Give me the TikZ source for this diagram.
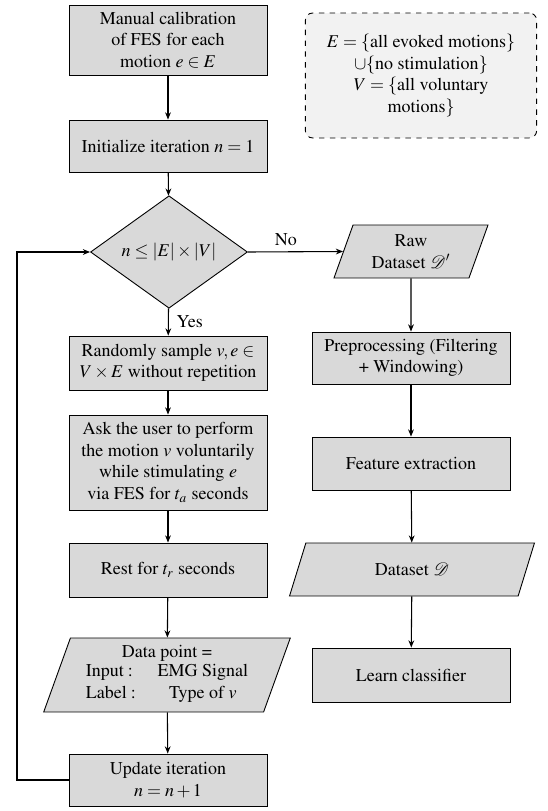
\documentclass[tikz,border=0pt]{standalone}
\usepackage[T1]{fontenc}
\usepackage{amsmath}
\usepackage{mathptmx}
\usepackage{mathrsfs}
\usetikzlibrary{shapes.geometric,arrows.meta}
\definecolor{boxfill}{HTML}{D9D9D9}
\definecolor{legfill}{HTML}{F2F2F2}
\tikzset{
  every node/.style={font=\rmfamily\fontsize{10}{12}\selectfont},
  proc/.style={draw, fill=boxfill, line width=0.5pt, align=center, minimum width=110pt, inner sep=2pt},
  io/.style={draw, fill=boxfill, line width=0.5pt, align=center, trapezium, trapezium left angle=70, trapezium right angle=110, trapezium stretches=true, inner sep=1pt},
  dec/.style={draw, fill=boxfill, line width=0.5pt, diamond, minimum width=87.2pt, minimum height=43.3pt, inner sep=0pt},
  legend/.style={draw, fill=legfill, dashed, rounded corners=4pt, line width=0.5pt, align=center, minimum width=128.5pt, minimum height=69.4pt},
  flow/.style={-{Stealth[length=4pt,width=3.2pt]}, line width=0.6pt},
  lbl/.style={font=\rmfamily\fontsize{10}{12}\selectfont}
}
\begin{document}
\begin{tikzpicture}[x=0.5556pt, y=-0.5556pt]
\useasboundingbox (0,0) rectangle (548,811);
% left column
\node[proc, minimum height=38.9pt] (calib) at (168,40) {Manual calibration\\of FES for each\\motion $e\in E$};
\node[proc, minimum height=28.9pt] (init) at (168,146) {Initialize iteration $n=1$};
\node[dec] (cond) at (169,252) {$n\le|E|\times|V|$};
\node[proc, minimum height=30pt] (sample) at (168,363) {Randomly sample $v,e\in$\\$V\times E$ without repetition};
\node[proc, minimum height=52.8pt] (ask) at (168,462.5) {Ask the user to perform\\the motion $v$ voluntarily\\while stimulating $e$\\via FES for $t_a$ seconds};
\node[proc, minimum height=30pt] (rest) at (168,570) {Rest for $t_r$ seconds};
\node[io, minimum width=137.2pt, minimum height=41.1pt] (data) at (167,675) {Data point =\\[-1pt]\begin{tabular}{@{}l@{\hspace{12pt}}c@{}}$\text{Input}:$ & EMG Signal\\ $\text{Label}:$ & Type of $v$\end{tabular}};
\node[proc, minimum height=28.9pt] (update) at (168,780) {Update iteration\\$n=n+1$};
\coordinate (loopA) at (17,780);
\coordinate (loopB) at (17,252);
% right column
\node[io, minimum width=86pt, minimum height=29.4pt] (raw) at (411,251.5) {Raw\\Dataset $\mathscr{D}'$};
\node[proc, minimum height=28.9pt] (pre) at (411,358) {Preprocessing (Filtering\\+ Windowing)};
\node[proc, minimum height=29.4pt] (feat) at (411,463.5) {Feature extraction};
\node[io, minimum width=136.7pt, minimum height=29.4pt] (ds) at (412,569.5) {Dataset $\mathscr{D}$};
\node[proc, minimum height=30pt] (learn) at (411,675) {Learn classifier};
% legend
\node[legend] (leg) at (421,75.5) {$E=\{\text{all evoked motions}\}$\\$\cup\{\text{no stimulation}\}$\\$V=\{\text{all voluntary}$\\$\text{motions}\}$};
% connectors
\draw[flow] (calib) -- (init);
\draw[flow] (init) -- (cond);
\draw[flow] (cond) -- node[lbl, right, pos=0.5, xshift=1pt] {Yes} (sample);
\draw[flow] (sample) -- (ask);
\draw[flow] (ask) -- (rest);
\draw[flow] (rest) -- (data);
\draw[flow] (data) -- (update);
\draw[flow] (update.west) -- (loopA) -- (loopB) -- (cond.west);
\draw[flow] (cond.east) -- node[lbl, above, pos=0.4] {No} (raw.west);
\draw[flow] (raw) -- (pre);
\draw[flow] (pre) -- (feat);
\draw[flow] (feat) -- (ds);
\draw[flow] (ds) -- (learn);
\end{tikzpicture}
\end{document}
